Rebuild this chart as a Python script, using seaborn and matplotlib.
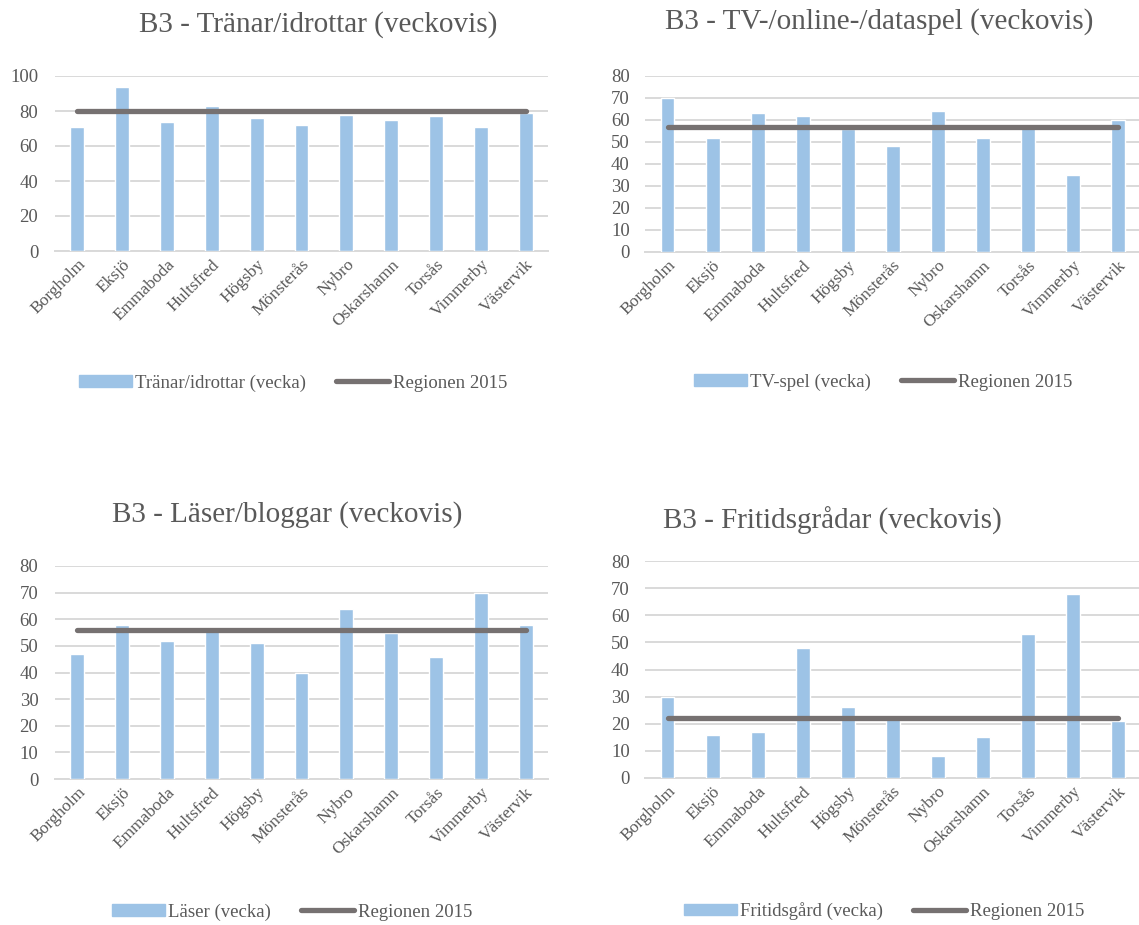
import numpy as np
import pandas as pd
import matplotlib
matplotlib.use("Agg")
import matplotlib.pyplot as plt
from matplotlib.patches import Patch
from matplotlib.lines import Line2D
import seaborn as sns

# kommuner (same order in all four charts)
cities = ["Borgholm", "Eksjö", "Emmaboda", "Hultsfred", "Högsby", "Mönsterås",
          "Nybro", "Oskarshamn", "Torsås", "Vimmerby", "Västervik"]

tranar = [71, 94, 74, 83, 76, 72, 78, 75, 77, 71, 79]
tranar_region = 80

tvspel = [70, 52, 63, 62, 56, 48, 64, 52, 57, 35, 60]
tvspel_region = 57

laser = [47, 58, 52, 56, 51, 40, 64, 55, 46, 70, 58]
laser_region = 56

fritid = [30, 16, 17, 48, 26, 22, 8, 15, 53, 68, 21]
fritid_region = 22

BAR = "#9DC3E6"
LINE = "#767171"
GRID = "#D9D9D9"
TXT = "#595959"
W, H = 1139, 925

sns.set_style("white")
plt.rcParams["font.family"] = ["Liberation Serif", "DejaVu Serif"]

fig = plt.figure(figsize=(W / 100, H / 100), dpi=100)


def px_axes(x0, x1, ytop, ybot):
    return fig.add_axes([x0 / W, 1 - ybot / H, (x1 - x0) / W, (ybot - ytop) / H])


def draw_panel(ax, values, region, ymax, step, title, title_xy, bar_label, leg_xy,
               right=10.5, ypad=12):
    df = pd.DataFrame({"kommun": cities, "andel": values})
    sns.barplot(data=df, x="kommun", y="andel", color=BAR, width=0.31,
                saturation=1, ax=ax, zorder=3)
    n = len(values)
    ax.plot(np.arange(n), np.full(n, region), color=LINE, lw=3.8,
            solid_capstyle="round", zorder=4)
    ax.set_ylim(0, ymax)
    ax.set_xlim(-0.5, right)
    ax.set_yticks(np.arange(0, ymax + 1, step))
    ax.yaxis.grid(True, color=GRID, lw=1.4, zorder=0)
    ax.set_axisbelow(True)
    for s in ["top", "right", "left"]:
        ax.spines[s].set_visible(False)
    ax.spines["bottom"].set_color(GRID)
    ax.spines["bottom"].set_linewidth(1.4)
    ax.set_xlabel("")
    ax.set_ylabel("")
    ax.tick_params(axis="x", length=0, labelsize=12.5, colors=TXT, pad=4)
    ax.tick_params(axis="y", length=0, labelsize=13.5, colors=TXT, pad=ypad)
    plt.setp(ax.get_xticklabels(), rotation=45, ha="right", rotation_mode="anchor")
    fig.text(title_xy[0] / W, 1 - title_xy[1] / H, title, ha="center", va="center",
             fontsize=21, color=TXT)
    handles = [Patch(color=BAR), Line2D([0], [0], color=LINE, lw=3.8)]
    fig.legend(handles, [bar_label, "Regionen 2015"], loc="center",
               bbox_to_anchor=(leg_xy[0] / W, 1 - leg_xy[1] / H), ncol=2,
               frameon=False, fontsize=13.5, labelcolor=TXT, handlelength=2.8,
               handleheight=0.55, handletextpad=0.2, columnspacing=1.6)


ax1 = px_axes(55, 548, 76, 251)
draw_panel(ax1, tranar, tranar_region, 100, 20, "B3 - Tränar/idrottar (veckovis)",
           (318, 25), "Tränar/idrottar (vecka)", (293, 383))

ax2 = px_axes(645, 1139, 76, 252)
draw_panel(ax2, tvspel, tvspel_region, 80, 10, "B3 - TV-/online-/dataspel (veckovis)",
           (879, 22), "TV-spel (vecka)", (883, 382), right=10.47, ypad=11)

ax3 = px_axes(55, 548, 566, 779)
draw_panel(ax3, laser, laser_region, 80, 10, "B3 - Läser/bloggar (veckovis)",
           (287, 515), "Läser (vecka)", (292, 912))

ax4 = px_axes(645, 1139, 561, 778)
draw_panel(ax4, fritid, fritid_region, 80, 10, "B3 - Fritidsgrådar (veckovis)",
           (832, 521), "Fritidsgård (vecka)", (884, 911), right=10.47, ypad=11)

fig.savefig("out.png", dpi=100)
